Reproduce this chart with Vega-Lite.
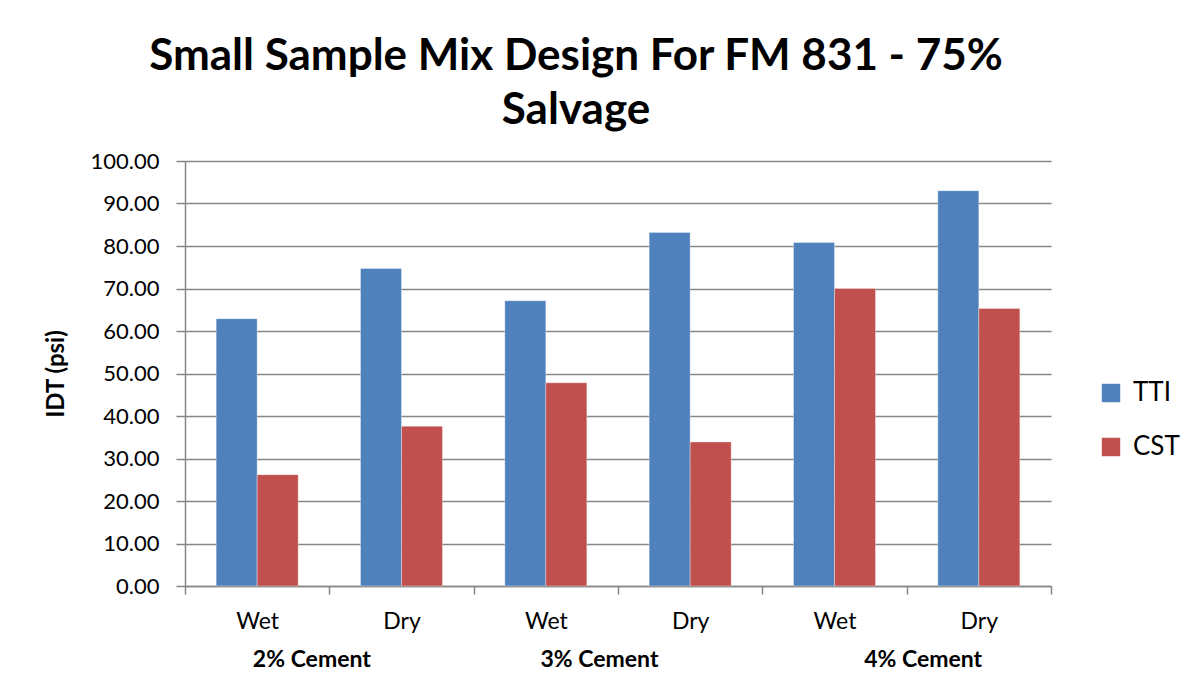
{
  "$schema": "https://vega.github.io/schema/vega-lite/v6.json",
  "width": 866,
  "height": 425,
  "padding": {"top": 35, "left": 44, "right": 5, "bottom": 5},
  "background": "white",
  "title": {
    "text": ["Small Sample Mix Design For FM 831 - 75%", "Salvage"],
    "font": "Lato",
    "fontSize": 44,
    "fontWeight": "bold",
    "color": "black",
    "lineHeight": 54,
    "anchor": "middle",
    "dx": -42,
    "offset": 17
  },
  "data": {
    "values": [
      {"group": "2% Cement", "cat": "2% Cement|Wet", "series": "TTI", "value": 62.9},
      {"group": "2% Cement", "cat": "2% Cement|Wet", "series": "CST", "value": 26.2},
      {"group": "2% Cement", "cat": "2% Cement|Dry", "series": "TTI", "value": 74.7},
      {"group": "2% Cement", "cat": "2% Cement|Dry", "series": "CST", "value": 37.6},
      {"group": "3% Cement", "cat": "3% Cement|Wet", "series": "TTI", "value": 67.1},
      {"group": "3% Cement", "cat": "3% Cement|Wet", "series": "CST", "value": 47.8},
      {"group": "3% Cement", "cat": "3% Cement|Dry", "series": "TTI", "value": 83.2},
      {"group": "3% Cement", "cat": "3% Cement|Dry", "series": "CST", "value": 33.9},
      {"group": "4% Cement", "cat": "4% Cement|Wet", "series": "TTI", "value": 80.8},
      {"group": "4% Cement", "cat": "4% Cement|Wet", "series": "CST", "value": 70.0},
      {"group": "4% Cement", "cat": "4% Cement|Dry", "series": "TTI", "value": 93.0},
      {"group": "4% Cement", "cat": "4% Cement|Dry", "series": "CST", "value": 65.3}
    ]
  },
  "layer": [
    {
      "mark": {"type": "bar", "stroke": "#ffffff", "strokeOpacity": 0.35, "strokeWidth": 1},
      "encoding": {
        "x": {
          "field": "cat",
          "type": "nominal",
          "sort": ["2% Cement|Wet", "2% Cement|Dry", "3% Cement|Wet", "3% Cement|Dry", "4% Cement|Wet", "4% Cement|Dry"],
          "scale": {"paddingInner": 0, "paddingOuter": 0},
          "axis": {
            "title": null,
            "labelExpr": "split(datum.label, '|')[1]",
            "labelAngle": 0,
            "tickBand": "extent",
            "tickSize": 8,
            "labelPadding": 16,
            "labelFontSize": 23,
            "grid": false
          }
        },
        "xOffset": {
          "field": "series",
          "type": "nominal",
          "sort": ["TTI", "CST"],
          "scale": {"paddingInner": 0, "paddingOuter": 0.76}
        },
        "y": {
          "field": "value",
          "type": "quantitative",
          "scale": {"domain": [0, 100], "nice": false},
          "axis": {
            "title": "IDT (psi)",
            "titleFontSize": 24,
            "titleFontWeight": "bold",
            "titlePadding": 22,
            "values": [0, 10, 20, 30, 40, 50, 60, 70, 80, 90, 100],
            "format": ".2f",
            "labelFontSize": 22,
            "labelPadding": 17,
            "tickSize": 9,
            "grid": true
          }
        },
        "color": {
          "field": "series",
          "type": "nominal",
          "sort": ["TTI", "CST"],
          "scale": {"domain": ["TTI", "CST"], "range": ["#4F81BD", "#C0504D"]},
          "legend": {
            "title": null,
            "orient": "none",
            "legendX": 913,
            "legendY": 219,
            "symbolType": "square",
            "symbolSize": 340,
            "symbolStrokeWidth": 0,
            "labelFontSize": 26,
            "labelFont": "Lato",
            "labelColor": "black",
            "rowPadding": 28,
            "labelOffset": 9
          }
        }
      }
    },
    {
      "mark": {"type": "text", "opacity": 0},
      "encoding": {
        "x": {
          "field": "group",
          "type": "nominal",
          "sort": ["2% Cement", "3% Cement", "4% Cement"],
          "scale": {"paddingInner": 0, "paddingOuter": 0},
          "axis": {
            "title": null,
            "orient": "bottom",
            "offset": 60,
            "domain": false,
            "ticks": false,
            "grid": false,
            "labelAngle": 0,
            "labelFontSize": 23,
            "labelFontWeight": "bold",
            "labelOffset": {
              "condition": [
                {"test": "datum.value == '2% Cement'", "value": -18},
                {"test": "datum.value == '3% Cement'", "value": -19}
              ],
              "value": 16
            }
          }
        }
      }
    }
  ],
  "resolve": {"scale": {"x": "independent"}, "axis": {"x": "independent"}},
  "config": {
    "view": {"stroke": null},
    "font": "Lato",
    "axis": {
      "labelFont": "Lato",
      "titleFont": "Lato",
      "labelColor": "black",
      "titleColor": "black",
      "domainColor": "#868686",
      "domainWidth": 1.5,
      "tickColor": "#868686",
      "tickWidth": 1.5,
      "gridColor": "#868686",
      "gridWidth": 1.5
    }
  }
}
